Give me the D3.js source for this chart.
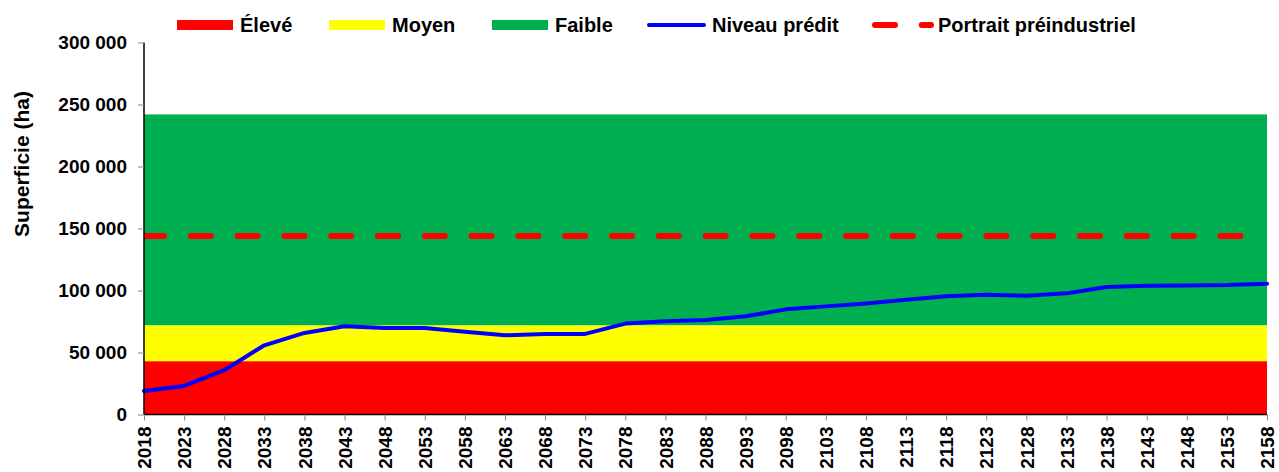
<!DOCTYPE html>
<html>
<head>
<meta charset="utf-8">
<script src="https://cdn.jsdelivr.net/npm/d3@7/dist/d3.min.js"></script>
<style>
  html, body { margin: 0; padding: 0; background: #fff; }
  svg { display: block; }
  text { font-family: "Liberation Sans", Arial, sans-serif; font-weight: bold; fill: #000; }
</style>
</head>
<body>
<svg id="chart" width="1279" height="472"></svg>
<script>
// ---- data ----
const years = ["2018","2023","2028","2033","2038","2043","2048","2053","2058","2063",
               "2068","2073","2078","2083","2088","2093","2098","2103","2108","2113",
               "2118","2123","2128","2133","2138","2143","2148","2153","2158"];
const predicted = [19000, 23000, 35700, 55800, 65800, 71100, 69800, 69800, 66800, 63900,
                   65000, 65000, 73300, 75200, 76200, 79200, 84800, 87200, 89600, 92600,
                   95300, 96600, 95800, 97700, 102800, 103900, 104100, 104400, 105500];
const preindustrial = [144000, 144000, 144000, 144000, 144000, 144000, 144000, 144000, 144000, 144000,
                       144000, 144000, 144000, 144000, 144000, 144000, 144000, 144000, 144000, 144000,
                       144000, 144000, 144000, 144000, 144000, 144000, 144000, 144000, 144000];
const bandNames = ["Élevé", "Moyen", "Faible"];
const bandLow  = [0, 43000, 72000];
const bandHigh = [43000, 72000, 242000];
const bandColors = ["#FF0000", "#FFFF00", "#00B050"];
const yTicks = [0, 50000, 100000, 150000, 200000, 250000, 300000];
const yTitle = "Superficie (ha)";
const lineNames = ["Niveau prédit", "Portrait préindustriel"];

// ---- layout ----
const svg = d3.select("#chart");
const x = d3.scalePoint().domain(years).range([144, 1267]);
const y = d3.scaleLinear().domain([0, 300000]).range([414.5, 42.5]);
const fmt = v => d3.format(",")(v).replace(/,/g, " ");

svg.append("defs").append("clipPath").attr("id", "plotclip")
  .append("rect").attr("x", x(years[0])).attr("y", 0)
  .attr("width", x(years[years.length - 1]) - x(years[0]) + 4).attr("height", 472);

// bands
svg.append("g").selectAll("rect").data(bandNames).join("rect")
  .attr("x", x(years[0]))
  .attr("width", x(years[years.length - 1]) - x(years[0]))
  .attr("y", (d, i) => y(bandHigh[i]))
  .attr("height", (d, i) => y(bandLow[i]) - y(bandHigh[i]))
  .attr("fill", (d, i) => bandColors[i]);

// preindustrial dashed line
const line = d3.line().x((d, i) => x(years[i])).y(d => y(d));
svg.append("path").datum(preindustrial)
  .attr("d", line)
  .attr("clip-path", "url(#plotclip)")
  .attr("fill", "none").attr("stroke", "#FF0000")
  .attr("stroke-width", 6).attr("stroke-linecap", "round")
  .attr("stroke-dasharray", "20,26.8");

// predicted line
svg.append("path").datum(predicted)
  .attr("d", line)
  .attr("fill", "none").attr("stroke", "#0000FF")
  .attr("stroke-width", 4).attr("stroke-linejoin", "round").attr("stroke-linecap", "round");

// y axis
const yAxis = svg.append("g").attr("transform", "translate(144,0)")
  .call(d3.axisLeft(y).tickValues(yTicks).tickSize(6).tickPadding(11).tickFormat(fmt));
yAxis.select(".domain").attr("stroke", "#000").attr("stroke-width", 1.5).attr("d", `M0,${y(300000)}V${y(0)}`);
yAxis.selectAll(".tick line").attr("stroke", "#888");
yAxis.selectAll(".tick text").style("font-size", "19px").attr("fill", "#000")
  .style("font-family", '"Liberation Sans", Arial, sans-serif').style("font-weight", "bold");

// x axis
const xAxis = svg.append("g").attr("transform", `translate(0,${y(0)})`)
  .call(d3.axisBottom(x).tickSize(6).tickPadding(0));
xAxis.select(".domain").attr("stroke", "#000").attr("stroke-width", 1.5)
  .attr("d", `M${x(years[0])},0H${x(years[years.length - 1])}`);
xAxis.selectAll(".tick line").attr("stroke", "#888");
xAxis.selectAll(".tick text")
  .style("font-size", "19px").attr("fill", "#000")
  .style("font-family", '"Liberation Sans", Arial, sans-serif').style("font-weight", "bold")
  .attr("text-anchor", "end")
  .attr("transform", "translate(0,12) rotate(-90)")
  .attr("x", 0).attr("y", 0).attr("dy", "0.35em");

// y title
svg.append("text")
  .attr("transform", "translate(22,164) rotate(-90)")
  .attr("text-anchor", "middle").attr("dy", "0.35em")
  .style("font-size", "21px")
  .text(yTitle);

// legend
const lg = svg.append("g");
const swX = [177, 329, 492];
bandNames.forEach((n, i) => {
  lg.append("rect").attr("x", swX[i]).attr("y", 20).attr("width", 56).attr("height", 10).attr("fill", bandColors[i]);
  lg.append("text").attr("x", swX[i] + 63).attr("y", 25).attr("dy", "0.35em").style("font-size", "20px").text(n);
});
lg.append("line").attr("x1", 649).attr("x2", 704).attr("y1", 25).attr("y2", 25)
  .attr("stroke", "#0000FF").attr("stroke-width", 4).attr("stroke-linecap", "round");
lg.append("text").attr("x", 712).attr("y", 25).attr("dy", "0.35em").style("font-size", "20px").text(lineNames[0]);
lg.append("line").attr("x1", 875).attr("x2", 931).attr("y1", 25).attr("y2", 25)
  .attr("stroke", "#FF0000").attr("stroke-width", 6).attr("stroke-linecap", "round")
  .attr("stroke-dasharray", "20,26.8");
lg.append("text").attr("x", 938).attr("y", 25).attr("dy", "0.35em").style("font-size", "20px").text(lineNames[1]);
</script>
</body>
</html>
